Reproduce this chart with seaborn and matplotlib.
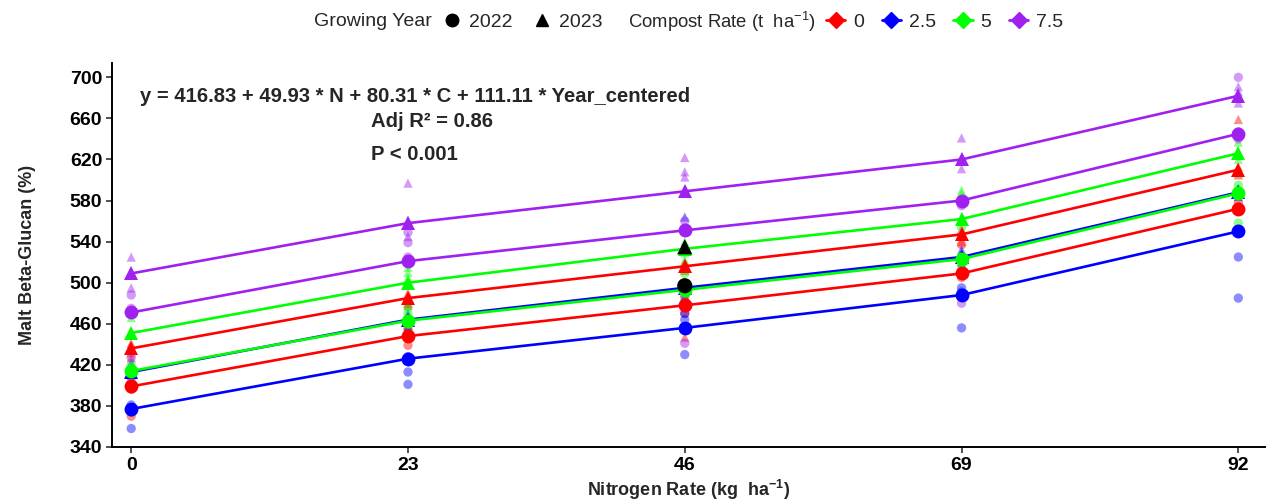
import pandas as pd
import seaborn as sns
import matplotlib.pyplot as plt
from matplotlib.lines import Line2D

# nitrogen rates (kg/ha) and groups
nitrogen = [0, 23, 46, 69, 92]
compost_levels = ['0', '2.5', '5', '7.5']
year_levels = ['2022', '2023']
compost_colors = ['#FF0000', '#0000FF', '#00FF00', '#A020F0']

# group means (one value per nitrogen rate)
mean_c0_2022 = [399, 448, 478, 509, 572]
mean_c0_2023 = [436, 485, 516, 547, 610]
mean_c25_2022 = [377, 426, 456, 488, 550]
mean_c25_2023 = [413, 464, 495, 525, 588]
mean_c5_2022 = [414, 463, 493, 523, 587]
mean_c5_2023 = [451, 500, 533, 562, 626]
mean_c75_2022 = [471, 521, 551, 580, 645]
mean_c75_2023 = [509, 558, 589, 620, 682]

# raw plot values, three replicates per nitrogen rate
rep_nitrogen = [0, 0, 0, 23, 23, 23, 46, 46, 46, 69, 69, 69, 92, 92, 92]
raw_c0_2022 = [403, 396, 370, 451, 439, 455, 480, 470, 486, 512, 505, 537, 574, 570, 578]
raw_c0_2023 = [441, 432, 427, 490, 480, 478, 520, 447, 512, 548, 552, 540, 613, 605, 659]
raw_c25_2022 = [381, 374, 358, 428, 413, 401, 464, 470, 430, 491, 456, 495, 552, 525, 485]
raw_c25_2023 = [417, 410, 422, 467, 470, 458, 564, 491, 487, 529, 532, 520, 592, 584, 590]
raw_c5_2022 = [412, 375, 420, 476, 470, 460, 491, 509, 500, 525, 554, 518, 558, 595, 590]
raw_c5_2023 = [466, 451, 436, 515, 510, 505, 529, 522, 540, 590, 587, 564, 637, 620, 607]
raw_c75_2022 = [475, 488, 427, 525, 539, 549, 553, 441, 560, 581, 480, 575, 700, 647, 640]
raw_c75_2023 = [525, 511, 495, 597, 561, 545, 622, 608, 603, 641, 611, 622, 691, 686, 675]

# overall year means shown in black at N = 46
year_mean_n = [46, 46]
year_mean_val = [497, 535]

means = {
    ('0', '2022'): mean_c0_2022, ('0', '2023'): mean_c0_2023,
    ('2.5', '2022'): mean_c25_2022, ('2.5', '2023'): mean_c25_2023,
    ('5', '2022'): mean_c5_2022, ('5', '2023'): mean_c5_2023,
    ('7.5', '2022'): mean_c75_2022, ('7.5', '2023'): mean_c75_2023,
}
raws = {
    ('0', '2022'): raw_c0_2022, ('0', '2023'): raw_c0_2023,
    ('2.5', '2022'): raw_c25_2022, ('2.5', '2023'): raw_c25_2023,
    ('5', '2022'): raw_c5_2022, ('5', '2023'): raw_c5_2023,
    ('7.5', '2022'): raw_c75_2022, ('7.5', '2023'): raw_c75_2023,
}

mean_rows = []
for (c, y), vals in means.items():
    for n, v in zip(nitrogen, vals):
        mean_rows.append({'N': n, 'Beta': v, 'Compost': c, 'Year': y})
df_mean = pd.DataFrame(mean_rows)

raw_rows = []
for (c, y), vals in raws.items():
    for n, v in zip(rep_nitrogen, vals):
        raw_rows.append({'N': n, 'Beta': v, 'Compost': c, 'Year': y})
df_raw = pd.DataFrame(raw_rows)

df_year = pd.DataFrame({'N': year_mean_n, 'Beta': year_mean_val, 'Year': year_levels})

sns.set_theme(style='white')
plt.rcParams['font.family'] = ['Liberation Sans Narrow', 'Liberation Sans', 'DejaVu Sans']
plt.rcParams['mathtext.fontset'] = 'custom'
plt.rcParams['mathtext.rm'] = 'Liberation Sans'
plt.rcParams['mathtext.bf'] = 'Liberation Sans:bold'

palette = dict(zip(compost_levels, compost_colors))
shape_map = {'2022': 'o', '2023': '^'}

fig = plt.figure(figsize=(12.75, 5.04), dpi=100)
ax = fig.add_axes([0.0878, 0.1131, 0.9042, 0.762])

sns.scatterplot(data=df_raw, x='N', y='Beta', hue='Compost', style='Year',
                hue_order=compost_levels, style_order=year_levels,
                palette=palette, markers=shape_map, s=45, alpha=0.45,
                edgecolor='none', legend=False, ax=ax, zorder=2)
sns.lineplot(data=df_mean, x='N', y='Beta', hue='Compost', style='Year',
             hue_order=compost_levels, style_order=year_levels,
             palette=palette, markers=shape_map, dashes=False,
             markersize=10, markeredgewidth=0, linewidth=1.9,
             legend=False, ax=ax, zorder=3)
sns.scatterplot(data=df_year, x='N', y='Beta', style='Year', color='black',
                markers=shape_map, s=120, edgecolor='none', legend=False,
                ax=ax, zorder=4)

ax.set_xlim(-1.6, 94.2)
ax.set_ylim(340, 714)
ax.set_xticks(nitrogen)
ax.set_yticks(range(340, 701, 40))
for s in ['top', 'right']:
    ax.spines[s].set_visible(False)
for s in ['left', 'bottom']:
    ax.spines[s].set_color('black')
    ax.spines[s].set_linewidth(1.4)
ax.tick_params(axis='both', length=4, width=1.2, color='#333333', direction='out',
               labelsize=14, labelcolor='black', bottom=True, left=True, pad=3)
for lab in ax.get_xticklabels() + ax.get_yticklabels():
    lab.set_fontweight('bold')

ax.set_xlabel('Nitrogen Rate (kg  ha$^{\\mathbf{-1}}$)', fontsize=13,
              fontweight='bold', labelpad=3)
ax.set_ylabel('Malt Beta-Glucan (%)', fontsize=13, fontweight='bold', labelpad=24)

ax.text(23.6, 681, 'y = 416.83 + 49.93 * N + 80.31 * C + 111.11 * Year_centered',
        ha='center', va='center', fontsize=14.6, fontweight='bold')
ax.text(25.0, 657, 'Adj R\u00b2 = 0.86', ha='center', va='center',
        fontsize=14.6, fontweight='bold')
ax.text(23.5, 625, 'P < 0.001', ha='center', va='center',
        fontsize=14.6, fontweight='bold')

# top legend row
ly = 1 - 22 / 504
fig.text(314 / 1275, ly, 'Growing Year', ha='left', va='center', fontsize=14)
year_handles = [Line2D([], [], color='black', marker=shape_map[y], linestyle='none',
                       markersize=9) for y in year_levels]
fig.legend(handles=year_handles, labels=year_levels, loc='center left',
           bbox_to_anchor=(442 / 1275, ly), ncol=2, frameon=False,
           handlelength=1.0, handletextpad=0.4, columnspacing=1.0,
           borderpad=0, borderaxespad=0, fontsize=14)
fig.text(628 / 1275, ly, 'Compost Rate (t  ha$^{-1}$)', ha='left', va='center',
         fontsize=13.3)
comp_handles = [Line2D([], [], color=c, marker='D', markersize=8, linewidth=2)
                for c in compost_colors]
fig.legend(handles=comp_handles, labels=compost_levels, loc='center left',
           bbox_to_anchor=(826 / 1275, ly), ncol=4, frameon=False,
           handlelength=1.0, handletextpad=0.4, columnspacing=0.9,
           borderpad=0, borderaxespad=0, fontsize=14)

fig.savefig('out.png', dpi=100)
